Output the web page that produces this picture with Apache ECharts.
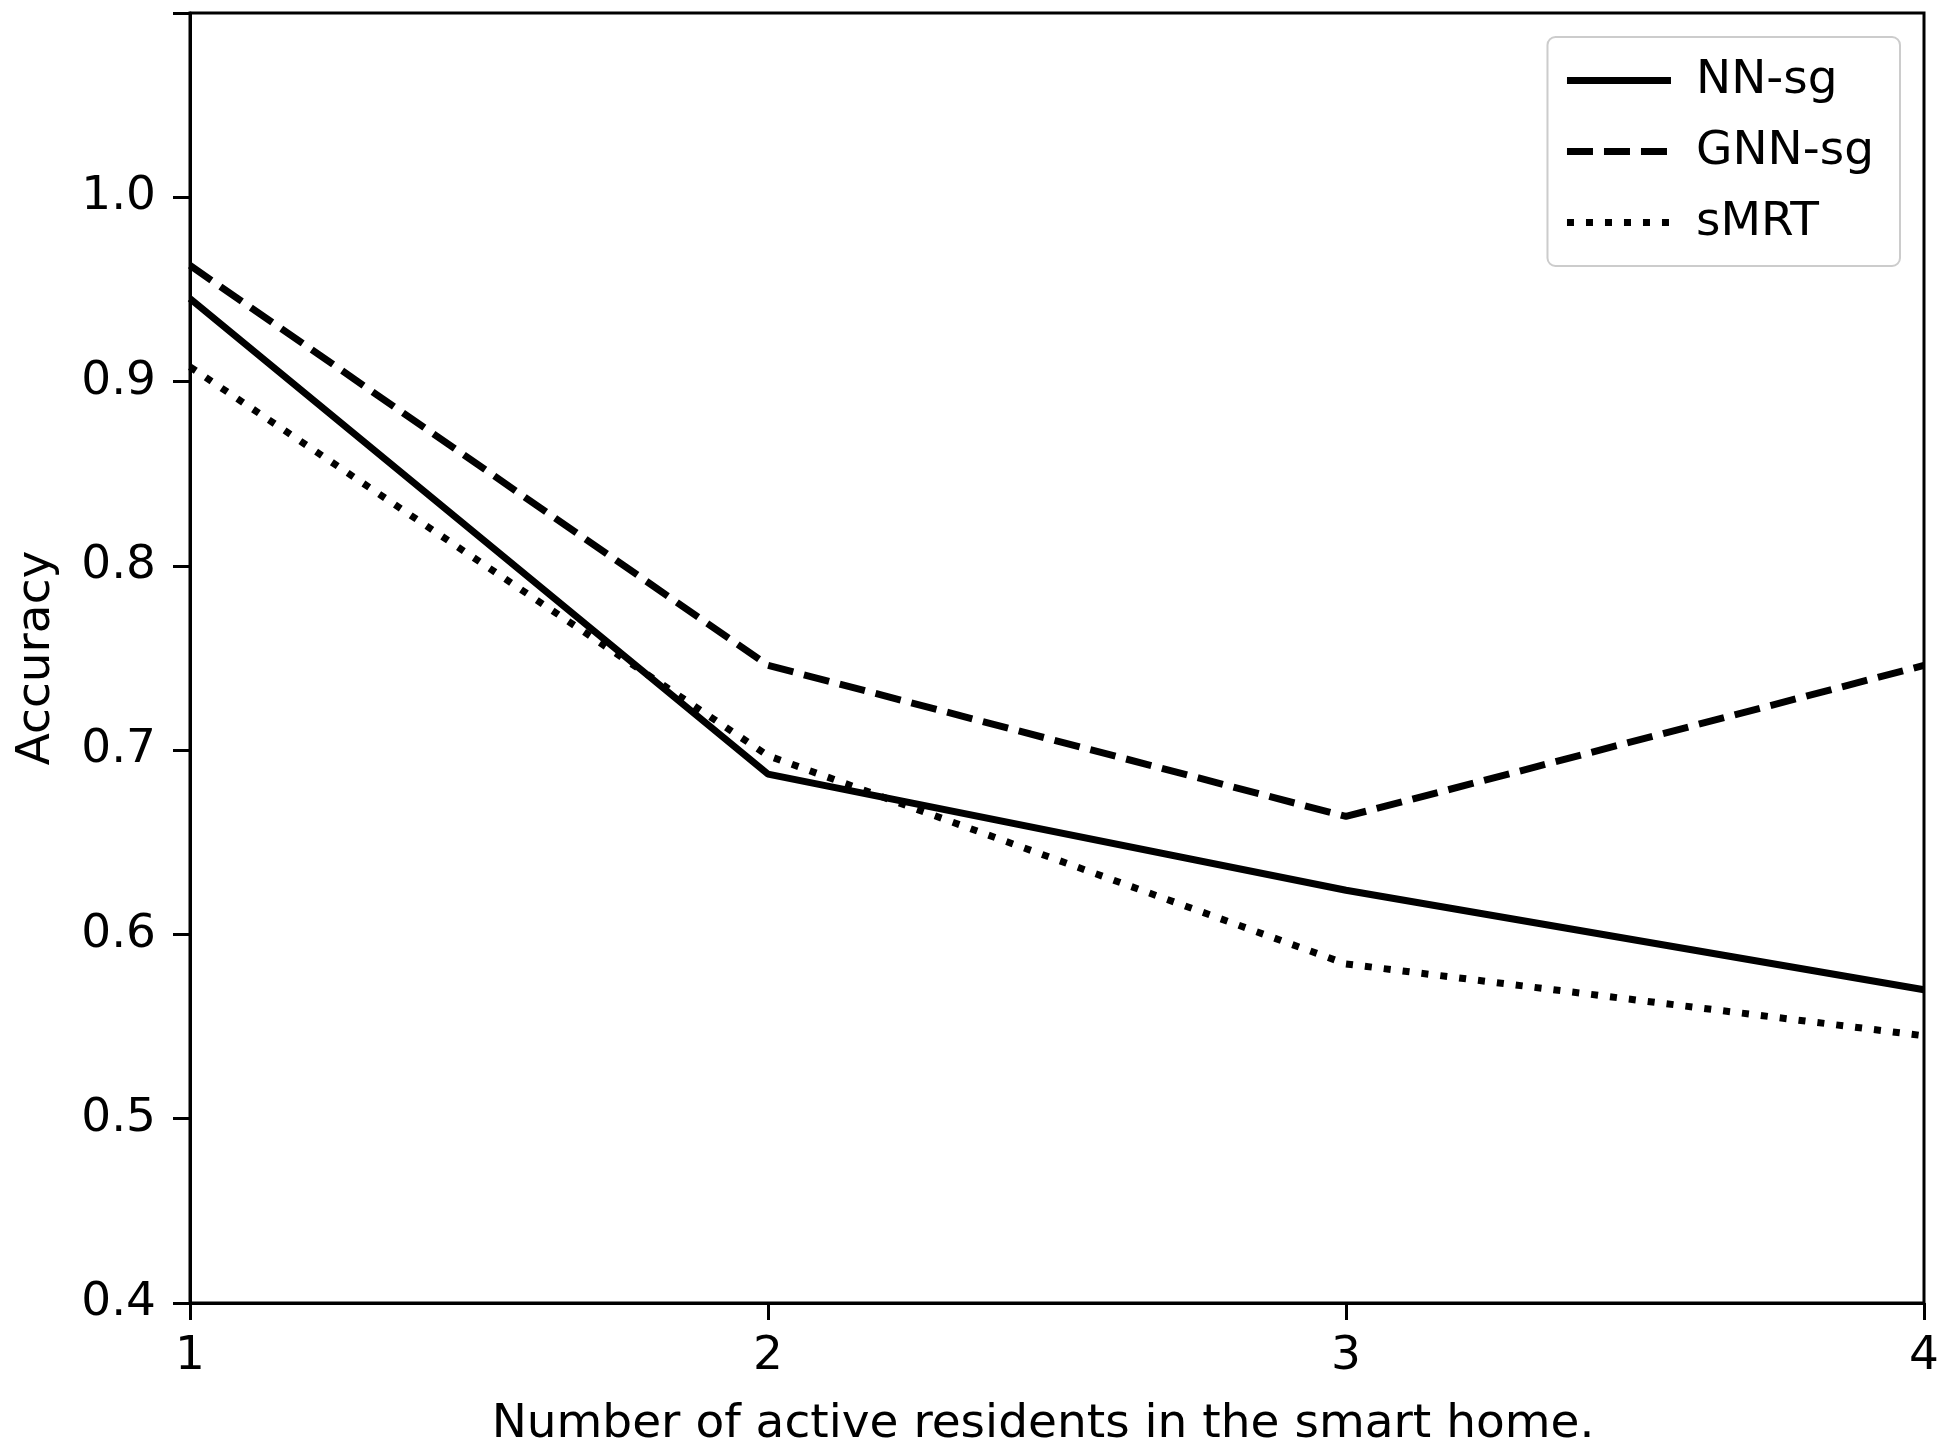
<!DOCTYPE html>
<html>
<head>
<meta charset="utf-8">
<script src="https://cdn.jsdelivr.net/npm/echarts@6/dist/echarts.min.js"></script>
<style>
  html, body { margin: 0; padding: 0; background: #fff; }
  #chart { width: 1950px; height: 1456px; }
</style>
</head>
<body>
<div id="chart"></div>
<script>
  // residents in the smart home
  var residents = [1, 2, 3, 4]
  var nnSg = [0.945, 0.687, 0.624, 0.570]
  var gnnSg = [0.963, 0.746, 0.664, 0.746]
  var smrt = [0.908, 0.697, 0.584, 0.545]
  var yTicks = [0.4, 0.5, 0.6, 0.7, 0.8, 0.9, 1.0]

  var font = 'DejaVu Sans'
  var fs = 47
  var chart = echarts.init(document.getElementById('chart'))

  function pairs(vals) {
    return residents.map(function (r, i) { return [r, vals[i]] })
  }

  function line(name, vals, type) {
    return {
      name: name,
      type: 'line',
      data: pairs(vals),
      showSymbol: false,
      symbol: 'none',
      lineStyle: { color: '#000', width: 7, type: type, cap: 'butt' },
      itemStyle: { color: '#000' },
      z: 3
    }
  }

  chart.setOption({
    animation: false,
    backgroundColor: '#fff',
    textStyle: { fontFamily: font, color: '#000' },
    grid: { left: 190, right: 26, top: 13, bottom: 153, show: true, borderColor: '#000', borderWidth: 3 },
    legend: {
      right: 50,
      top: 37,
      orient: 'vertical',
      padding: [20, 26, 20, 16],
      itemGap: 24,
      itemWidth: 104,
      itemHeight: 12,
      backgroundColor: '#fff',
      borderColor: '#cccccc',
      borderWidth: 2,
      borderRadius: 8,
      lineStyle: { width: 7, color: '#000', type: 'inherit', cap: 'butt' },
      itemStyle: { opacity: 0, borderWidth: 0 },
      textStyle: { fontFamily: font, fontSize: fs, color: '#000', padding: [0, 0, 0, 20] },
      data: ['NN-sg', 'GNN-sg', 'sMRT']
    },
    xAxis: {
      type: 'value',
      min: 1,
      max: 4,
      interval: 1,
      name: 'Number of active residents in the smart home.',
      nameLocation: 'middle',
      nameGap: 98,
      nameTextStyle: { fontFamily: font, fontSize: fs, color: '#000', verticalAlign: 'top', padding: [0, 28, 0, 0] },
      axisLine: { lineStyle: { color: '#000', width: 3 } },
      axisTick: { show: true, length: 17, lineStyle: { color: '#000', width: 3 } },
      axisLabel: { fontFamily: font, fontSize: fs, color: '#000', margin: 30 },
      splitLine: { show: false }
    },
    yAxis: {
      type: 'value',
      min: 0.4,
      max: 1.1,
      interval: 0.1,
      name: 'Accuracy',
      nameLocation: 'middle',
      nameGap: 130,
      nameTextStyle: { fontFamily: font, fontSize: fs, color: '#000' },
      axisLine: { show: true, lineStyle: { color: '#000', width: 3 } },
      axisTick: { show: true, length: 17, lineStyle: { color: '#000', width: 3 } },
      axisLabel: {
        fontFamily: font, fontSize: fs, color: '#000', margin: 34,
        formatter: function (v) {
          var t = Math.round(v * 10) / 10
          return yTicks.indexOf(t) >= 0 ? t.toFixed(1) : ''
        }
      },
      splitLine: { show: false }
    },
    series: [
      line('NN-sg', nnSg, 'solid'),
      line('GNN-sg', gnnSg, [26, 11]),
      line('sMRT', smrt, [7, 12])
    ]
  })
</script>
</body>
</html>
